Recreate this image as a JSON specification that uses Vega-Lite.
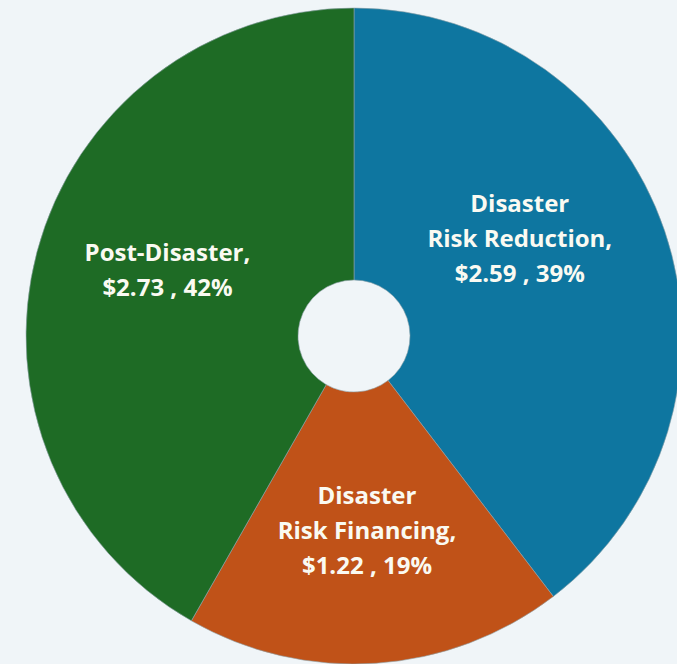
{
  "$schema": "https://vega.github.io/schema/vega-lite/v6.json",
  "autosize": {"type": "none"},
  "width": 646,
  "height": 656,
  "padding": {"left": 31, "top": 8, "right": 0, "bottom": 0},
  "background": "#F0F5F8",
  "config": {
    "view": {
      "stroke": null,
      "fill": {
        "gradient": "linear",
        "x1": 0, "y1": 0, "x2": 1, "y2": 0.3,
        "stops": [
          {"offset": 0, "color": "#F0F5F8"},
          {"offset": 0.5, "color": "#E9F1F5"},
          {"offset": 1, "color": "#D8E7EF"}
        ]
      }
    }
  },
  "data": {
    "values": [
      {"category": "Disaster Risk Reduction", "amount": 2.59, "rank": 1, "label": ["Disaster", "Risk Reduction,", "$2.59 , 39%"]},
      {"category": "Disaster Risk Financing", "amount": 1.22, "rank": 2, "label": ["Disaster", "Risk Financing,", "$1.22 , 19%"]},
      {"category": "Post-Disaster", "amount": 2.73, "rank": 3, "label": ["Post-Disaster,", "$2.73 , 42%"]}
    ]
  },
  "encoding": {
    "theta": {"field": "amount", "type": "quantitative", "stack": true},
    "order": {"field": "rank", "type": "quantitative"},
    "color": {
      "field": "category",
      "type": "nominal",
      "scale": {
        "domain": ["Disaster Risk Reduction", "Disaster Risk Financing", "Post-Disaster"],
        "range": ["#0E76A0", "#C05218", "#1E6B25"]
      },
      "legend": null
    }
  },
  "layer": [
    {
      "mark": {"type": "arc", "outerRadius": 328, "innerRadius": 56, "stroke": "#8FA3AA", "strokeWidth": 0.6}
    },
    {
      "mark": {
        "type": "text",
        "radius": 193,
        "dx": -17,
        "dy": -69,
        "font": "Open Sans",
        "fontWeight": "bold",
        "fontSize": 24,
        "lineHeight": 35,
        "align": "center",
        "baseline": "middle"
      },
      "encoding": {
        "text": {"condition": {"test": "datum.rank == 1", "field": "label"}, "value": ""},
        "color": {"value": "#FAFAF2"}
      }
    },
    {
      "mark": {
        "type": "text",
        "radius": 193,
        "dy": -32,
        "font": "Open Sans",
        "fontWeight": "bold",
        "fontSize": 24,
        "lineHeight": 35,
        "align": "center",
        "baseline": "middle"
      },
      "encoding": {
        "text": {"condition": {"test": "datum.rank != 1", "field": "label"}, "value": ""},
        "color": {"value": "#FAFAF2"}
      }
    }
  ]
}
